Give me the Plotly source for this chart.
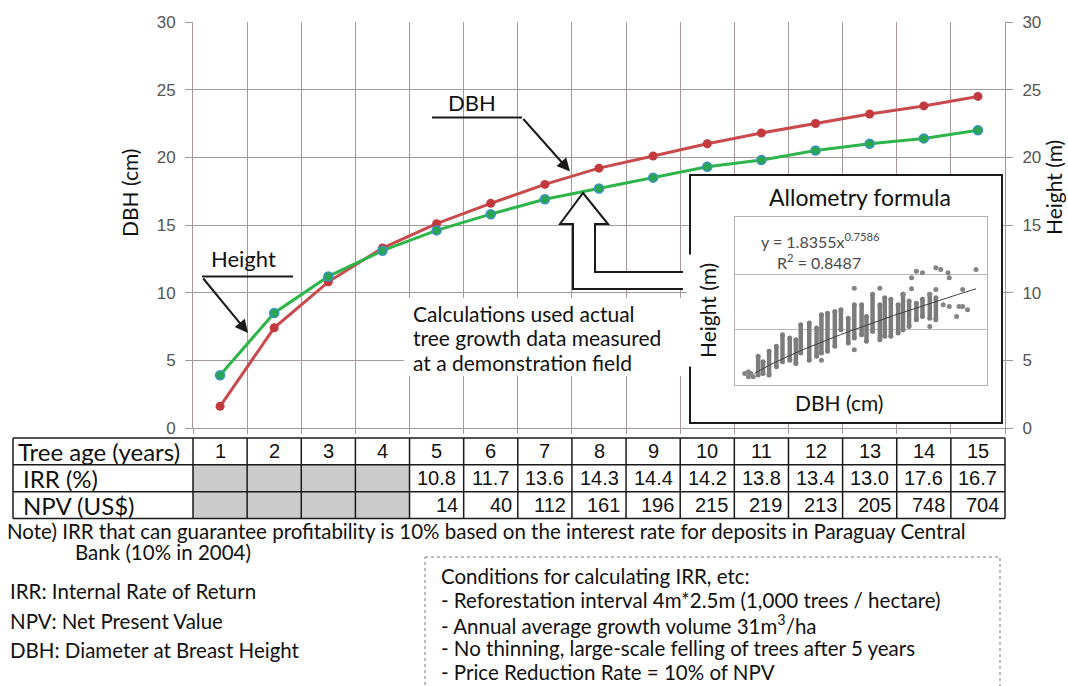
import numpy as np
import plotly.graph_objects as go

# ---- growth curves (tree age in years) ----
ages = list(range(1, 16))
dbh_cm = [1.6, 7.4, 10.8, 13.3, 15.1, 16.6, 18.0, 19.2, 20.1, 21.0, 21.8, 22.5, 23.2, 23.8, 24.5]
height_m = [3.9, 8.5, 11.2, 13.1, 14.6, 15.8, 16.9, 17.7, 18.5, 19.3, 19.8, 20.5, 21.0, 21.4, 22.0]

# ---- profitability table ----
irr_pct = [None, None, None, None, 10.8, 11.7, 13.6, 14.3, 14.4, 14.2, 13.8, 13.4, 13.0, 17.6, 16.7]
npv_usd = [None, None, None, None, 14, 40, 112, 161, 196, 215, 219, 213, 205, 748, 704]
row_labels = ["Tree age (years)", "IRR (%)", "NPV (US$)"]

# ---- allometry sample: DBH classes with the spread of measured heights ----
allo_dbh = [1.5, 1.9, 2.4, 3.0, 3.5, 4.1, 4.6, 5.0, 5.7, 6.3, 6.7, 7.2, 7.8, 8.3, 8.9,
            9.4, 10.0, 10.4, 10.9, 11.5, 11.9, 12.4, 13.0, 13.4, 13.9, 14.5, 15.0, 15.6, 16.1]
allo_h_low = [1.8, 2.1, 1.8, 3.3, 4.2, 4.5, 3.9, 5.8, 4.5, 5.2, 5.8, 6.1, 7.0, 10.0, 7.6,
              8.5, 9.1, 7.9, 9.7, 8.2, 8.8, 8.8, 9.4, 10.0, 10.6, 11.8, 12.4, 12.1, 11.8]
allo_h_high = [5.2, 4.2, 6.1, 7.0, 9.1, 8.5, 8.2, 10.9, 11.2, 10.3, 12.7, 13.0, 13.3, 13.6, 12.1,
               14.5, 14.5, 12.4, 16.4, 14.5, 15.8, 15.5, 14.5, 16.4, 15.2, 14.8, 15.5, 16.4, 15.8]
# isolated trees outside the dense classes
allo_pt_dbh = [0.4, 0.7, 0.9, 0.7, 1.1, 6.7, 9.4, 9.4, 11.5, 14.1, 14.1, 13.4, 14.5, 15.0, 16.1,
               16.5, 17.1, 17.2, 16.1, 15.6, 18.3, 19.4, 16.7, 17.2, 18.0, 18.3, 17.8, 18.7, 15.6]
allo_pt_h = [2.1, 1.5, 2.1, 2.4, 1.5, 4.5, 6.4, 17.5, 17.5, 19.4, 17.4, 16.4, 20.6, 20.3, 21.2,
             20.9, 20.3, 19.4, 17.3, 16.4, 17.3, 20.9, 14.5, 14.2, 14.2, 14.2, 12.4, 13.6, 10.6]
allo_coef, allo_exp, allo_r2 = 1.8355, 0.7586, 0.8487

# ---- notes ----
note_lines = [
    ("Note) IRR that can guarantee profitability is 10% based on the interest rate for deposits in Paraguay Central", 5, 531),
    ("Bank (10% in 2004)", 73, 552),
    ("IRR: Internal Rate of Return", 8, 591),
    ("NPV: Net Present Value", 8, 621),
    ("DBH: Diameter at Breast Height", 8, 650),
]
condition_lines = [
    "Conditions for calculating IRR, etc:",
    "- Reforestation interval 4m*2.5m (1,000 trees / hectare)",
    "- Annual average growth volume 31m<sup>3</sup>/ha",
    "- No thinning, large-scale felling of trees after 5 years",
    "- Price Reduction Rate = 10% of NPV",
]
callout_lines = ["Calculations used actual", "tree growth data measured", "at a demonstration field"]

W, H = 1068, 686
PLOT_L, PLOT_R, PLOT_T, PLOT_B = 193, 1005, 22, 428
PX_PER_YEAR = (PLOT_R - PLOT_L) / 15
PX_PER_UNIT = (PLOT_B - PLOT_T) / 30


def fx(px):
    return px / W


def fy(py):
    return 1 - py / H


def dx(px):  # pixel column -> main x-axis value
    return 0.5 + (px - PLOT_L) / PX_PER_YEAR


def dy(py):  # pixel row -> main y-axis value
    return (PLOT_B - py) / PX_PER_UNIT


GRID = "#a69896"
TXT = "Lato"
NUM = "Arial"
INK = "#1a1a1a"

fig = go.Figure()

# main curves
fig.add_trace(go.Scatter(
    x=ages, y=dbh_cm, mode="lines+markers", name="DBH",
    line=dict(color="#c84a4c", width=3),
    marker=dict(size=9, color="#c23a3d"),
    xaxis="x", yaxis="y", hoverinfo="skip"))
fig.add_trace(go.Scatter(
    x=ages, y=height_m, mode="lines+markers", name="Height",
    line=dict(color="#2db54b", width=3),
    marker=dict(size=9, color="#2aa64e", line=dict(color="#3a92c4", width=1.5)),
    xaxis="x", yaxis="y2", hoverinfo="skip"))

# allometry scatter (inset)
sx, sy = [], []
for d, lo, hi in zip(allo_dbh, allo_h_low, allo_h_high):
    sx += [d, d, None]
    sy += [lo, hi, None]
fig.add_trace(go.Scatter(x=sx, y=sy, mode="lines", line=dict(color="#7c7c7c", width=4.5),
                         xaxis="x2", yaxis="y3", hoverinfo="skip"))
fig.add_trace(go.Scatter(x=allo_dbh + allo_dbh, y=allo_h_low + allo_h_high, mode="markers",
                         marker=dict(size=5, color="#7c7c7c"),
                         xaxis="x2", yaxis="y3", hoverinfo="skip"))
fig.add_trace(go.Scatter(x=allo_pt_dbh, y=allo_pt_h, mode="markers",
                         marker=dict(size=5, color="#848484"),
                         xaxis="x2", yaxis="y3", hoverinfo="skip"))
fit_x = np.linspace(1.2, 19.4, 60)
fit_y = allo_coef * fit_x ** allo_exp
fig.add_trace(go.Scatter(x=fit_x, y=fit_y, mode="lines", line=dict(color="#404040", width=1),
                         xaxis="x2", yaxis="y3", hoverinfo="skip"))

# table subplot placeholder
fig.add_trace(go.Scatter(x=[1], y=[1], mode="markers", marker=dict(opacity=0),
                         xaxis="x3", yaxis="y4", hoverinfo="skip"))

TBL_LEFT = 0.5 - (PLOT_L - 13) / PX_PER_YEAR
ROW_PX = (518.5 - 438) / 3

shapes = []
annotations = []


def label(text, x, y, size, **kw):
    d = dict(text=text, xref="paper", yref="paper", x=fx(x), y=fy(y), xanchor="center",
             yanchor="middle", showarrow=False, font=dict(family=TXT, size=size, color="#111"))
    d.update(kw)
    annotations.append(d)


# inset panel frame: white card over the main grid
shapes.append(dict(type="rect", xref="x", yref="y", x0=dx(690), x1=dx(1002), y0=dy(423), y1=dy(175),
                   fillcolor="white", line=dict(color=INK, width=2), layer="between"))

# ---- table ----
for i, v in enumerate(irr_pct):
    if v is None:
        for r in (1, 2):
            shapes.append(dict(type="rect", xref="x3", yref="y4", x0=ages[i] - 0.5, x1=ages[i] + 0.5,
                               y0=r, y1=r + 1, fillcolor="#cbcbcb", line=dict(width=0), layer="below"))
for r in range(4):
    shapes.append(dict(type="line", xref="x3", yref="y4", x0=TBL_LEFT, x1=15.5, y0=r, y1=r,
                       line=dict(color=INK, width=1.5)))
for xb in [TBL_LEFT] + [a - 0.5 for a in ages] + [15.5]:
    shapes.append(dict(type="line", xref="x3", yref="y4", x0=xb, x1=xb, y0=0, y1=3,
                       line=dict(color=INK, width=1.5)))

tbl_font = dict(family=TXT, size=24, color="#111")
num_font = dict(family=NUM, size=20, color="#111")
annotations.append(dict(text=row_labels[0], xref="x3", yref="y4", x=TBL_LEFT, y=0.5, xanchor="left",
                        yanchor="middle", xshift=3, showarrow=False, font=tbl_font))
for r in (1, 2):
    annotations.append(dict(text=row_labels[r], xref="x3", yref="y4", x=TBL_LEFT, y=r + 0.5, xanchor="left",
                            yanchor="middle", xshift=8, showarrow=False, font=tbl_font))
for i, a in enumerate(ages):
    annotations.append(dict(text=str(a), xref="x3", yref="y4", x=a, y=0.5, xanchor="center",
                            yanchor="middle", showarrow=False, font=num_font))
    if irr_pct[i] is not None:
        annotations.append(dict(text=f"{irr_pct[i]:.1f}", xref="x3", yref="y4", x=a, y=1.5,
                                xanchor="center", yanchor="middle", showarrow=False, font=num_font))
    if npv_usd[i] is not None:
        annotations.append(dict(text=str(npv_usd[i]), xref="x3", yref="y4", x=a + 0.5, y=2.5,
                                xanchor="right", yanchor="middle", xshift=-4, showarrow=False,
                                font=num_font))

# ---- callouts on the main chart ----
label("DBH", 472, 103, 22)
shapes.append(dict(type="line", xref="paper", yref="paper", x0=fx(432), x1=fx(522), y0=fy(117.5), y1=fy(117.5),
                   line=dict(color=INK, width=2)))
annotations.append(dict(text="", xref="paper", yref="paper", x=fx(570), y=fy(171.5), ax=-48, ay=-54,
                        showarrow=True, arrowhead=2, arrowsize=1.3, arrowwidth=2, arrowcolor=INK))

label("Height", 243, 258, 22)
shapes.append(dict(type="line", xref="paper", yref="paper", x0=fx(202), x1=fx(293), y0=fy(276.5), y1=fy(276.5),
                   line=dict(color=INK, width=2)))
annotations.append(dict(text="", xref="paper", yref="paper", x=fx(248), y=fy(333), ax=-46, ay=-56,
                        showarrow=True, arrowhead=2, arrowsize=1.3, arrowwidth=2, arrowcolor=INK))

# white panel behind the explanatory text
shapes.append(dict(type="rect", xref="paper", yref="paper", x0=fx(404), x1=fx(689), y0=fy(376), y1=fy(298),
                   fillcolor="white", line=dict(width=0), layer="above"))
for k, txt in enumerate(callout_lines):
    label(txt, 411, 313 + 24.5 * k, 21, xanchor="left")

# hollow bent arrow from the inset up to the curves
pts = [(683, 272), (595, 272), (595, 224), (608, 224), (583, 193), (560, 224), (573, 224), (573, 289), (683, 289)]
path = "M " + " L ".join(f"{fx(a):.5f},{fy(b):.5f}" for a, b in pts)
shapes.append(dict(type="path", xref="paper", yref="paper", path=path, fillcolor="white",
                   line=dict(color=INK, width=2), layer="above"))

# ---- inset labels ----
label("Allometry formula", 860, 197, 23)
label("DBH (cm)", 839, 403, 21)
label("Height (m)", 707, 311, 21, textangle=-90, bgcolor="white", borderpad=8)
label(f"y = {allo_coef}x<sup>{allo_exp}</sup>", 759, 241, 16, xanchor="left",
      font=dict(family=TXT, size=16, color="#4a4a4a"))
label(f"R<sup>2</sup> = {allo_r2}", 775, 261, 16, xanchor="left",
      font=dict(family=TXT, size=16, color="#4a4a4a"))

# ---- axis titles ----
label("DBH (cm)", 130, 193, 21, textangle=-90)
label("Height (m)", 1054, 188, 21, textangle=-90)

# ---- notes ----
for txt, x0, y0 in note_lines:
    label(txt, x0, y0, 20.5, xanchor="left")
shapes.append(dict(type="rect", xref="paper", yref="paper", x0=fx(425), x1=fx(1000), y0=fy(557), y1=fy(700),
                   line=dict(color="#7a7a7a", width=1, dash="dot")))
for k, txt in enumerate(condition_lines):
    label(txt, 439, 576 + 24 * k, 20.5, xanchor="left")

tickfont = dict(family=NUM, size=17, color="#555")
fig.update_layout(
    template="none",
    width=W, height=H, margin=dict(l=0, r=0, t=0, b=0),
    paper_bgcolor="white", plot_bgcolor="white", showlegend=False,
    xaxis=dict(domain=[fx(PLOT_L), fx(PLOT_R)], range=[0.5, 15.5], anchor="y",
               tickvals=[a - 0.5 for a in ages] + [15.5], ticks="outside", ticklen=5, tickcolor=GRID,
               showticklabels=False, showgrid=True, gridcolor=GRID, gridwidth=1,
               showline=True, linecolor=GRID, zeroline=False),
    yaxis=dict(domain=[fy(PLOT_B), fy(PLOT_T)], range=[0, 30], dtick=5, tick0=0, anchor="x",
               ticks="outside", ticklen=7, tickcolor=GRID, showgrid=True, gridcolor=GRID, gridwidth=1,
               showline=True, linecolor=GRID, zeroline=False, tickfont=tickfont, ticklabelstandoff=6),
    yaxis2=dict(overlaying="y", side="right", range=[0, 30], dtick=5, tick0=0, anchor="x",
                ticks="outside", ticklen=7, tickcolor=GRID, showgrid=False,
                showline=True, linecolor=GRID, zeroline=False, tickfont=tickfont, ticklabelstandoff=6),
    xaxis2=dict(domain=[fx(735), fx(987)], range=[-0.4, 20.3], anchor="y3", showline=True, mirror=True,
                linecolor="#b0b0b0", linewidth=1, showgrid=False, zeroline=False, showticklabels=False, ticks=""),
    yaxis3=dict(domain=[fy(385), fy(217)], range=[0, 30.4], anchor="x2", showline=True, mirror=True,
                linecolor="#b0b0b0", linewidth=1, tickvals=[10, 20], showgrid=True, gridcolor="#b8b8b8",
                zeroline=False, showticklabels=False, ticks=""),
    xaxis3=dict(domain=[fx(10), fx(1008)], range=[TBL_LEFT - 3 / PX_PER_YEAR, 15.5 + 3 / PX_PER_YEAR],
                anchor="y4", visible=False),
    yaxis4=dict(domain=[fy(521.5), fy(435)], range=[3 + 3 / ROW_PX, -3 / ROW_PX], anchor="x3", visible=False),
    shapes=shapes, annotations=annotations,
)

fig.write_html("out.html")
